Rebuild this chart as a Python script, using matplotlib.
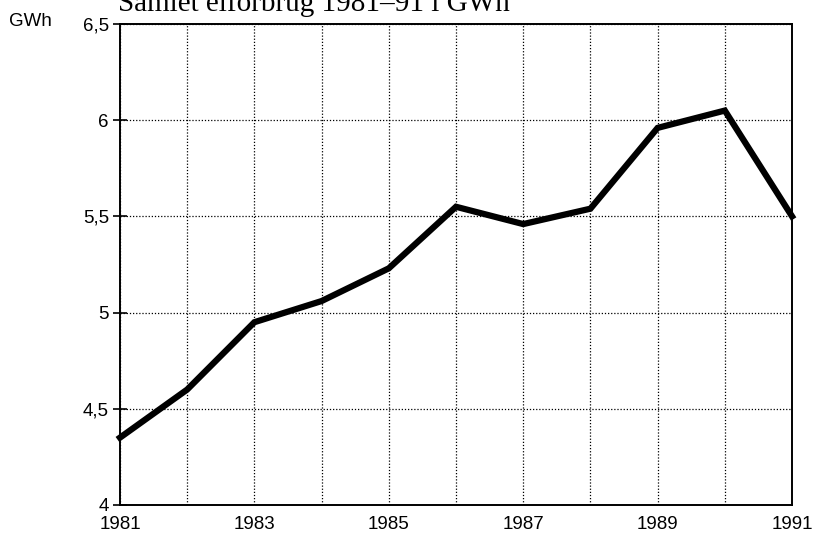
import matplotlib.pyplot as plt

years = [1981, 1982, 1983, 1984, 1985, 1986, 1987, 1988, 1989, 1990, 1991]
gwh = [4.35, 4.60, 4.95, 5.06, 5.23, 5.55, 5.46, 5.54, 5.96, 6.05, 5.50]

y_ticks = [4, 4.5, 5, 5.5, 6, 6.5]
y_labels = ["4", "4,5", "5", "5,5", "6", "6,5"]

title = "Samlet elforbrug 1981\u201391 i GWh"
unit = "GWh"

plt.rcParams["font.family"] = ["Liberation Sans", "DejaVu Sans"]

fig = plt.figure(figsize=(8.2, 5.39), dpi=100)
ax = fig.add_axes([0.1463, 0.0631, 0.8196, 0.8924])

ax.plot(years, gwh, color="black", linewidth=4.5, solid_joinstyle="miter",
        zorder=3, clip_on=False)

ax.set_xlim(1981, 1991)
ax.set_ylim(4, 6.5)
ax.set_xticks(years)
ax.set_xticklabels([str(y) if y % 2 == 1 else "" for y in years])
ax.set_yticks(y_ticks)
ax.set_yticklabels(y_labels)

ax.grid(True, color="black", linestyle=(0, (1, 1.5)), linewidth=0.9)
ax.tick_params(axis="x", length=0, pad=8, labelsize=13.5)
ax.tick_params(axis="y", direction="inout", length=10, width=1.2, pad=3, labelsize=13.5)
for side in ax.spines.values():
    side.set_linewidth(1.4)

fig.text(9 / 820, 1 - 22 / 539, unit, fontsize=13.5, va="center", ha="left")
fig.text(118 / 820, 1 - 11 / 539, title, fontsize=21, va="baseline", ha="left",
         family=["Liberation Serif", "DejaVu Serif"])

fig.savefig("out.png", dpi=100)
